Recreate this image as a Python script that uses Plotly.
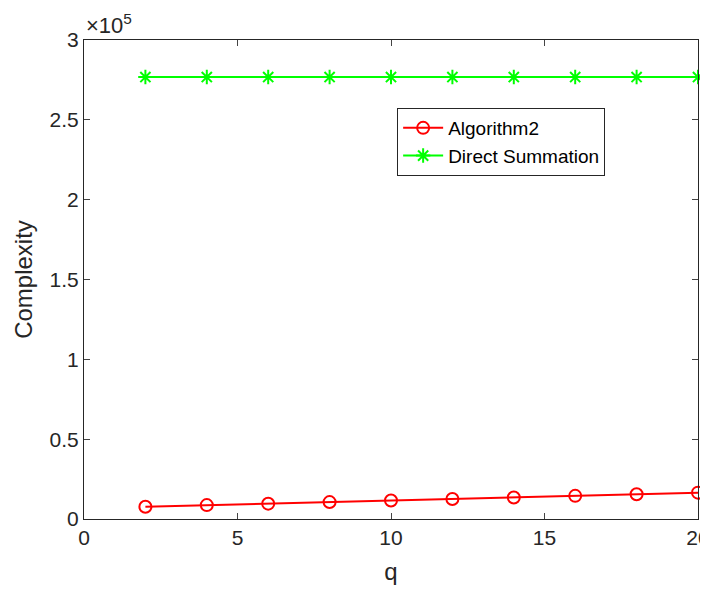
import plotly.graph_objects as go

q = [2, 4, 6, 8, 10, 12, 14, 16, 18, 20]
algorithm2 = [7700, 8700, 9600, 10600, 11600, 12500, 13500, 14500, 15500, 16500]
direct_summation = [276800] * 10

x_ticks = [0, 5, 10, 15, 20]
y_tick_vals = [0, 50000, 100000, 150000, 200000, 250000, 300000]
y_tick_text = ["0", "0.5", "1", "1.5", "2", "2.5", "3"]

axis_color = "#262626"
font_family = "Liberation Sans, Arial, sans-serif"

fig = go.Figure()
fig.add_trace(go.Scatter(
    x=q, y=algorithm2, name="Algorithm2", mode="lines+markers",
    line=dict(color="#ff0000", width=2),
    marker=dict(symbol="circle-open", size=12, color="#ff0000", line=dict(width=2, color="#ff0000")),
    cliponaxis=False,
))
fig.add_trace(go.Scatter(
    x=q, y=direct_summation, name="Direct Summation", mode="lines+markers",
    line=dict(color="#00ff00", width=2),
    marker=dict(symbol="asterisk-open", size=12, color="#00ff00", line=dict(width=2, color="#00ff00")),
    cliponaxis=False,
))

# The page body has an 8px default margin, so the figure is sized to fit the window.
fig.update_layout(
    width=700, height=587,
    margin=dict(l=76, r=10, t=32, b=76, autoexpand=False),
    paper_bgcolor="white", plot_bgcolor="white",
    font=dict(family=font_family, size=21, color=axis_color),
    showlegend=True,
    legend=dict(
        x=0.51, y=0.858, xanchor="left", yanchor="top",
        bgcolor="white", bordercolor=axis_color, borderwidth=1,
        font=dict(size=19, color="black"),
        tracegroupgap=0, itemwidth=40,
    ),
    xaxis=dict(
        range=[0, 20], tickvals=x_ticks, ticks="inside", ticklen=6,
        showline=True, linecolor=axis_color, linewidth=1, mirror="ticks",
        showgrid=False, zeroline=False, automargin=False,
        title=dict(text="q", font=dict(size=24), standoff=14),
        tickfont=dict(size=21), ticklabeloverflow="allow",
    ),
    yaxis=dict(
        range=[0, 300000], tickvals=y_tick_vals, ticktext=y_tick_text,
        ticks="inside", ticklen=6,
        showline=True, linecolor=axis_color, linewidth=1, mirror="ticks",
        showgrid=False, zeroline=False, automargin=False,
        title=dict(text="Complexity", font=dict(size=24), standoff=10),
        tickfont=dict(size=21), ticklabeloverflow="allow",
    ),
    annotations=[dict(
        text="×10<sup>5</sup>", xref="paper", yref="paper", x=0, y=1,
        xanchor="left", yanchor="bottom", showarrow=False,
        font=dict(size=22, color=axis_color), yshift=0,
    )],
)

fig.write_html("out.html")
